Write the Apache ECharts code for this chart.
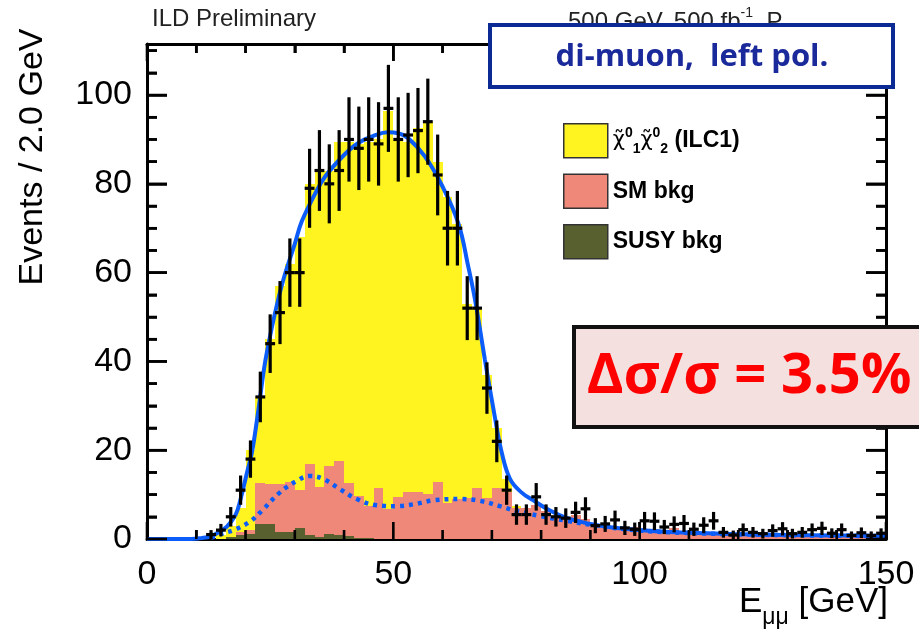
<!DOCTYPE html>
<html>
<head>
<meta charset="utf-8">
<script src="https://cdn.jsdelivr.net/npm/echarts@6/dist/echarts.min.js"></script>
<style>
  html, body { margin: 0; padding: 0; background: #ffffff; }
  #chart { width: 919px; height: 636px; }
</style>
</head>
<body>
<div id="chart"></div>
<script>
// Di-muon energy spectrum, 2 GeV bins from 0 to 150 GeV (75 bins)
const BIN_WIDTH = 2;

// Stacked simulation, per-bin contribution of each component
const susyBkg = [
  0, 0, 0, 0, 0, 0, 0, 0, 0.5, 0.8,
  1.2, 3.3, 3.3, 1.5, 1.5, 2.4, 0.8, 0.4, 1.1, 0.9,
  0.7, 0.3, 0.2, 0.1, 0.1, 0, 0, 0, 0, 0,
  0, 0, 0, 0, 0, 0, 0, 0, 0, 0,
  0, 0, 0, 0, 0, 0, 0, 0, 0, 0,
  0, 0, 0, 0, 0, 0, 0, 0, 0, 0,
  0, 0, 0, 0, 0, 0, 0, 0, 0, 0,
  0, 0, 0, 0, 0
];
const smBkg = [
  0, 0, 0, 0, 0, 0, 0, 0, 0, 0.7,
  0.8, 9.3, 9.0, 11.0, 11.4, 8.6, 16.2, 11.3, 15.4, 16.7,
  12.0, 9.4, 7.2, 11.3, 6.6, 9.4, 10.6, 10.5, 10.1, 12.9,
  8.2, 9.0, 9.3, 11.6, 9.3, 11.6, 10.5, 6.9, 6.9, 7.7,
  6.2, 4.7, 4.4, 5.4, 4.5, 2.8, 2.4, 2.5, 2.2, 2.6,
  2.0, 2.3, 2.0, 2.4, 1.9, 1.6, 1.4, 1.6, 1.2, 1.0,
  1.3, 1.0, 0.9, 1.1, 0.8, 0.9, 0.7, 0.8, 0.9, 0.6,
  0.7, 0.5, 0.6, 0.5, 0.5
];
const signal = [
  0, 0, 0, 0, 0, 0, 0, 1, 2.5, 5.5,
  18, 19.4, 32.7, 44.5, 49.1, 57, 63, 71.3, 66.5, 71.9,
  76.8, 79.3, 82.1, 78.6, 89.6, 80.5, 78.8, 82, 83.9, 72.1,
  68.8, 62, 43.7, 40.4, 27.7, 13.4, 3, 0.5, 0, 0,
  0, 0, 0, 0, 0, 0, 0, 0, 0, 0,
  0, 0, 0, 0, 0, 0, 0, 0, 0, 0,
  0, 0, 0, 0, 0, 0, 0, 0, 0, 0,
  0, 0, 0, 0, 0
];

// Observed events per bin and their statistical errors
const observed = [
  null, null, null, null, null, null, 1, 2, 5, 11,
  18, 32, 44, 51, 60, 60, 79, 83, 80, 83,
  90, 88, 90, 89, 97, 90, 91, 92, 94, 82,
  70, 70, 52, 52, 34, 22, 11, 5.5, 5.5, 9.5,
  5.5, 5, 4.7, 6, 6.8, 3, 3.4, 4.3, 2.5, 2.2,
  4.1, 4, 2.7, 3.3, 3.5, 2.2, 3.1, 4.1, 1.5, 0.9,
  2.1, 1.5, 1.2, 1.9, 2.3, 1.2, 1.5, 2.1, 2.4, 1.3,
  2.1, 0.8, 1.4, 0.8, 1.3
];
const observedErr = [
  0, 0, 0, 0, 0, 0, 1.0, 1.4, 2.2, 3.3,
  4.2, 5.7, 6.6, 7.1, 7.7, 7.7, 8.9, 9.1, 8.9, 9.1,
  9.5, 9.4, 9.5, 9.4, 9.8, 9.5, 9.5, 9.6, 9.7, 9.1,
  8.4, 8.4, 7.2, 7.2, 5.8, 4.7, 3.3, 2.3, 2.3, 3.1,
  2.3, 2.2, 2.2, 2.4, 2.6, 1.7, 1.8, 2.1, 1.6, 1.5,
  2.0, 2.0, 1.6, 1.8, 1.9, 1.5, 1.8, 2.0, 1.2, 1.0,
  1.4, 1.2, 1.1, 1.4, 1.5, 1.1, 1.2, 1.4, 1.5, 1.1,
  1.4, 0.9, 1.2, 0.9, 1.1
];

// Total fit (signal + background) and background-only fit
const fitE = [0, 9, 11, 13, 14.2, 16.2, 18, 19, 20.3, 21.3, 22.6, 24, 26, 27.7, 30, 31.4, 34, 36.2, 40, 42.9,
  46.2, 48.9, 51, 53, 56.4, 59.8, 63.2, 65.2, 66.6, 68.6, 70.6, 72, 73.7, 76, 78.4, 81.8, 85, 88, 92, 98,
  105, 112, 119, 130, 139, 150];
const fitV = [0, 0, 0.2, 0.6, 1.3, 2.8, 5.5, 9, 15, 19.5, 29, 40, 51, 58.5, 66.5, 71.5, 77.5, 81.7, 86.5, 89.2,
  90.9, 91.6, 91.4, 90.3, 86.2, 79.8, 71.1, 61.4, 53.8, 40.3, 27.5, 19.5, 13.5, 10.5, 8.7, 6.4, 4.8, 3.9, 3.0, 2.2,
  1.65, 1.35, 1.1, 0.9, 0.8, 0.7];
const bkgFitE = [13, 15.5, 17.6, 21, 23.6, 27, 30.4, 33.1, 35.8, 39.2, 42.6, 46.6, 50.7, 54, 58.1, 63.5, 67.6,
  71.6, 75, 79.7, 85.2, 92, 100, 110, 120, 135, 150];
const bkgFitV = [0.3, 1.3, 2.0, 4.0, 6.7, 10.5, 13.1, 14.2, 13.5, 11.2, 9.0, 7.6, 7.4, 7.8, 8.7, 9.0, 8.6,
  7.4, 6.3, 5.2, 4.1, 2.9, 1.9, 1.35, 1.05, 0.8, 0.65];

// Axis ranges, label steps and minor divisions
const xTicks = { min: 0, max: 150, step: 50, minorPerStep: 5 };
const yTicks = { min: 0, max: 111.5, step: 20, minorPerStep: 4 };

const SIG_NAME = 'chi10chi20 (ILC1)';
const SM_NAME = 'SM bkg';
const SUSY_NAME = 'SUSY bkg';

const COLORS = {
  signal: '#fff41f',
  sm: '#ef8878',
  susy: '#586030',
  fit: '#0b5cf8'
};

// Rows [lowEdge, highEdge, bottom, top] for one stacked component
function stackRows(below, values) {
  const rows = [];
  values.forEach((v, i) => {
    if (v > 0) {
      const base = below.reduce((s, arr) => s + arr[i], 0);
      rows.push([i * BIN_WIDTH, (i + 1) * BIN_WIDTH, base, base + v]);
    }
  });
  return rows;
}

function renderBin(params, api) {
  const a = api.coord([api.value(0), api.value(3)]);
  const b = api.coord([api.value(1), api.value(2)]);
  const x0 = Math.round(a[0]), x1 = Math.round(b[0]);
  const y0 = Math.round(a[1]), y1 = Math.round(b[1]);
  return {
    type: 'rect',
    shape: { x: x0, y: y0, width: x1 - x0, height: y1 - y0 },
    style: { fill: api.visual('color') }
  };
}

function renderPoint(params, api) {
  const e = api.value(0), v = api.value(1), err = api.value(2);
  const top = api.coord([e, v + err]);
  const bot = api.coord([e, Math.max(0, v - err)]);
  const l = api.coord([e - BIN_WIDTH / 2, v]);
  const r = api.coord([e + BIN_WIDTH / 2, v]);
  const st = { stroke: '#000', lineWidth: 3.2 };
  return {
    type: 'group',
    children: [
      { type: 'line', shape: { x1: top[0], y1: top[1], x2: bot[0], y2: bot[1] }, style: st },
      { type: 'line', shape: { x1: l[0], y1: l[1], x2: r[0], y2: r[1] }, style: st }
    ]
  };
}

const pointRows = [];
observed.forEach((v, i) => {
  if (v !== null) pointRows.push([(i + 0.5) * BIN_WIDTH, v, observedErr[i]]);
});

const FONT = 'Liberation Sans, Arial, Helvetica, sans-serif';

function frameAxis(pos, ticks, isX, labels) {
  return {
    type: 'value',
    position: pos,
    min: ticks.min,
    max: ticks.max,
    interval: ticks.step,
    axisLine: { show: true, onZero: false, lineStyle: { color: '#000', width: 3 } },
    axisTick: { show: true, inside: true, length: isX ? 17 : 20, lineStyle: { color: '#000', width: 2.5 } },
    minorTick: { show: true, splitNumber: ticks.minorPerStep, length: isX ? 9 : 10, lineStyle: { color: '#000', width: 2.5 } },
    splitLine: { show: false },
    axisLabel: labels ? {
      show: true, color: '#000', fontSize: 34, fontFamily: FONT,
      margin: isX ? 19 : 15, showMaxLabel: isX ? true : false
    } : { show: false }
  };
}

const chart = echarts.init(document.getElementById('chart'));

chart.setOption({
  animation: false,
  grid: { left: 147, right: 33, top: 44, bottom: 97 },
  xAxis: [frameAxis('bottom', xTicks, true, true), frameAxis('top', xTicks, true, false)],
  yAxis: [frameAxis('left', yTicks, false, true), frameAxis('right', yTicks, false, false)],
  legend: {
    orient: 'vertical',
    left: 558,
    top: 118,
    itemWidth: 44,
    itemHeight: 34,
    itemGap: 15,
    icon: 'rect',
    data: [SIG_NAME, SM_NAME, SUSY_NAME],
    itemStyle: { borderColor: '#333', borderWidth: 1.5 },
    textStyle: {
      fontFamily: FONT, fontWeight: 'bold', fontSize: 23, color: '#000',
      rich: {
        c: { fontFamily: 'DejaVu Sans', fontWeight: 'normal', fontSize: 21, color: '#000' },
        u: { fontFamily: FONT, fontWeight: 'bold', fontSize: 14, color: '#000', verticalAlign: 'top', lineHeight: 30 },
        d: { fontFamily: FONT, fontWeight: 'bold', fontSize: 14, color: '#000', verticalAlign: 'bottom', lineHeight: 30 },
        t: { fontFamily: FONT, fontWeight: 'bold', fontSize: 23, color: '#000' }
      }
    },
    formatter: function (name) {
      if (name === SIG_NAME) return '{c|χ̃}{u|0}{d|1}{c|χ̃}{u|0}{d|2}{t| (ILC1)}';
      return name;
    }
  },
  series: [
    {
      name: SUSY_NAME, type: 'custom', renderItem: renderBin, clip: true,
      itemStyle: { color: COLORS.susy },
      data: stackRows([], susyBkg), z: 2
    },
    {
      name: SM_NAME, type: 'custom', renderItem: renderBin, clip: true,
      itemStyle: { color: COLORS.sm },
      data: stackRows([susyBkg], smBkg), z: 2
    },
    {
      name: SIG_NAME, type: 'custom', renderItem: renderBin, clip: true,
      itemStyle: { color: COLORS.signal },
      data: stackRows([susyBkg, smBkg], signal), z: 2
    },
    {
      name: 'data', type: 'custom', renderItem: renderPoint, clip: true,
      itemStyle: { color: '#000' },
      data: pointRows, z: 6
    },
    {
      name: 'bkg fit', type: 'line', smooth: 0.4, showSymbol: false, clip: true,
      lineStyle: { color: COLORS.fit, width: 4.5, type: [4, 5], cap: 'butt' },
      data: bkgFitE.map((e, i) => [e, bkgFitV[i]]), z: 4
    },
    {
      name: 'fit', type: 'line', smooth: 0.4, showSymbol: false, clip: true,
      lineStyle: { color: COLORS.fit, width: 4 },
      data: fitE.map((e, i) => [e, fitV[i]]), z: 5
    }
  ],
  graphic: [
    {
      type: 'text', left: 152, top: 7, z: 10,
      style: { text: 'ILD Preliminary', font: '24px ' + FONT, fill: '#222' }
    },
    {
      type: 'text', left: 568, top: 6, z: 10,
      style: {
        text: '{a|500 GeV, 500 fb}{s|-1}{a|, P}',
        fill: '#222',
        rich: {
          a: { fontFamily: FONT, fontSize: 24, fill: '#222', lineHeight: 28, verticalAlign: 'bottom' },
          s: { fontFamily: FONT, fontSize: 14, fill: '#222', lineHeight: 28, verticalAlign: 'top' }
        }
      }
    },
    {
      type: 'rect', z: 20,
      shape: { x: 490, y: 25, width: 403, height: 62 },
      style: { fill: '#ffffff', stroke: '#0b2a94', lineWidth: 4 }
    },
    {
      type: 'text', z: 21, x: 692, y: 57,
      style: {
        text: 'di-muon,  left pol.', font: 'bold 31px "Open Sans", sans-serif',
        fill: '#1b2a9b', align: 'center', verticalAlign: 'middle'
      }
    },
    {
      type: 'rect', z: 20,
      shape: { x: 574, y: 327, width: 360, height: 100 },
      style: { fill: '#f4e1df', stroke: '#111', lineWidth: 4 }
    },
    {
      type: 'text', z: 21, x: 749, y: 377,
      style: {
        text: 'Δσ/σ = 3.5%', font: 'bold 56px "Open Sans", sans-serif',
        fill: '#ff0000', align: 'center', verticalAlign: 'middle'
      }
    },
    {
      type: 'text', z: 10, x: 33, y: 157, rotation: Math.PI / 2,
      style: {
        text: 'Events / 2.0 GeV', font: '34px ' + FONT, fill: '#000',
        align: 'center', verticalAlign: 'middle'
      }
    },
    {
      type: 'text', z: 10, right: 31, top: 585,
      style: {
        text: '{n|E}{s|μμ}{n| [GeV]}',
        rich: {
          n: { fontFamily: FONT, fontSize: 35, fill: '#000', lineHeight: 44, verticalAlign: 'top' },
          s: { fontFamily: FONT, fontSize: 23, fill: '#000', lineHeight: 44, verticalAlign: 'bottom' }
        }
      }
    }
  ]
});

// Inward ticks on all four frame sides, drawn as thin filled bars straight
// into the chart's renderer; positions come from the grid's own value-to-pixel mapping.
(function addFrameTicks() {
  const Rect = echarts.graphic && echarts.graphic.Rect;
  if (!Rect) return;
  const zr = chart.getZr();
  const toPx = (x, y) => chart.convertToPixel({ gridIndex: 0 }, [x, y]);
  const W = 2.6;
  const bar = (x, y, w, h) => new Rect({
    shape: { x: x, y: y, width: w, height: h },
    style: { fill: '#000' },
    z: 15,
    silent: true
  });

  const xm = xTicks.step / xTicks.minorPerStep;
  for (let k = 0; xTicks.min + k * xm <= xTicks.max + 1e-9; k++) {
    const v = xTicks.min + k * xm;
    const len = k % xTicks.minorPerStep === 0 ? 17 : 9;
    const b = toPx(v, yTicks.min);
    const t = toPx(v, yTicks.max);
    zr.add(bar(b[0] - W / 2, b[1] - len, W, len));
    zr.add(bar(t[0] - W / 2, t[1], W, len));
  }
  const ym = yTicks.step / yTicks.minorPerStep;
  for (let k = 0; yTicks.min + k * ym <= yTicks.max + 1e-9; k++) {
    const v = yTicks.min + k * ym;
    const len = k % yTicks.minorPerStep === 0 ? 20 : 10;
    const l = toPx(xTicks.min, v);
    const r = toPx(xTicks.max, v);
    zr.add(bar(l[0], l[1] - W / 2, len, W));
    zr.add(bar(r[0] - len, r[1] - W / 2, len, W));
  }
  if (zr.refreshImmediately) zr.refreshImmediately();
})();
</script>
</body>
</html>
